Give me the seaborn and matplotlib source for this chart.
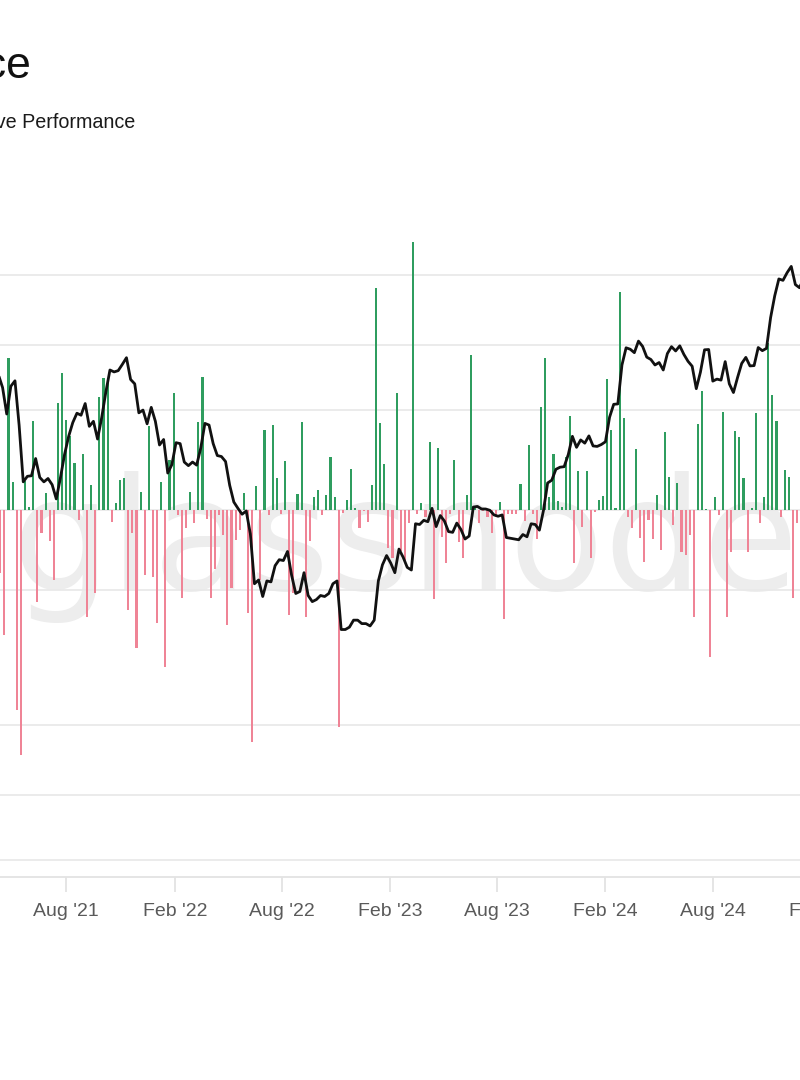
import numpy as np
import pandas as pd
import matplotlib
matplotlib.use("Agg")
import matplotlib.pyplot as plt
import matplotlib.dates as mdates
from matplotlib.ticker import NullLocator, FixedLocator
import seaborn as sns

# ---------------- data ----------------
# Weekly relative performance (%) - one bar per week, week starting Mon 12 Apr 2021
perf_2021 = [-6.3, -12.5, 15.2, 2.8, -20.0, -24.5, 2.9, 0.3, 8.9, -9.2, -2.3, 1.7,
             -3.1, -7.0, 10.7, 13.7, 9.0, 7.4, 4.7, -1.0, 5.6, -10.7, 2.5, -8.3,
             11.3, 13.2, 12.7, -1.2, 0.7, 3.0, 3.2, -10.0, -2.3, -13.8, 1.8, -6.5,
             8.4, -6.7]
perf_2022 = [-11.3, 2.8, -15.7, 5.0, 11.7, -0.5, -8.8, -1.8, 1.8, -1.3, 8.8, 13.3,
             -0.9, -8.8, -5.9, -0.5, -2.5, -11.5, -7.8, -3.0, -2.0, 1.7, -10.3, -23.2,
             2.4, -7.0, 8.0, -0.5, 8.5, 3.2, -0.4, 4.9, -10.5, -8.3, 1.6, 8.8,
             -10.7, -3.1, 1.3, 2.0, -0.5, 1.5, 5.3, 1.3, -21.7, -0.3, 1.0, 4.1,
             0.2, -1.8, -0.1, -1.2]
perf_2023 = [2.5, 22.2, 8.7, 4.6, -3.8, -4.8, 11.7, -4.1, -5.1, -1.3, 26.8, -0.4,
             0.7, -0.7, 6.8, -8.9, 6.2, -2.7, -5.3, -0.4, 5.0, -3.2, -4.8, 1.5,
             15.5, 0.3, -1.3, -0.1, -0.7, -2.3, -0.7, 0.8, -10.9, -0.4, -0.4, -0.4,
             2.6, -1.1, 6.5, -0.4, -2.9, 10.3, 15.2, 1.3, 5.6, 0.9, 0.3, 5.3,
             9.4, -5.3, 3.9, -1.7]
perf_2024 = [3.9, -4.8, -0.2, 1.0, 1.4, 13.1, 8.0, 0.2, 21.8, 9.2, -0.7, -1.8,
             6.1, -2.8, -5.2, -1.0, -2.9, 1.5, -4.0, 7.8, 3.3, -1.5, 2.7, -4.2,
             -4.5, -2.5, -10.7, 8.6, 11.9, 0.1, -14.7, 1.3, -0.5, 9.8, -10.7, -4.2,
             7.9, 7.3, 3.2, -4.2, 0.2, 9.7, -1.3, 1.3, 16.7, 11.5, 8.9, -0.7,
             4.0, 3.3, -8.8, -1.3, 5.0]

# BTC price (thousand USD), weekly closes from Sun 4 Apr 2021
price_2021 = [58.7, 60.0, 56.2, 49.1, 56.6, 58.2, 46.4, 34.7, 35.7, 35.8, 39.1, 35.5,
              34.7, 35.3, 34.2, 31.8, 35.4, 39.9, 43.8, 47.0, 49.3, 48.8, 51.8, 46.1,
              47.3, 43.2, 48.2, 54.9, 61.5, 60.9, 61.3, 63.3, 65.5, 58.6, 57.3, 49.4,
              50.1, 46.7, 50.8]
price_2022 = [47.3, 41.9, 43.1, 36.3, 37.9, 42.4, 42.2, 38.4, 37.7, 38.4, 37.8, 41.3,
              46.8, 46.4, 42.2, 39.7, 39.5, 38.5, 34.1, 31.3, 30.3, 29.4, 29.9, 26.6,
              20.6, 21.0, 19.3, 20.9, 20.8, 22.6, 23.3, 23.2, 24.3, 21.5, 19.6, 19.8,
              21.8, 19.4, 18.8, 19.0, 19.4, 19.3, 19.6, 20.6, 20.9, 16.3, 16.3, 16.5,
              17.1, 17.1, 16.8, 16.8]
price_2023 = [16.6, 17.1, 20.9, 22.7, 23.8, 22.9, 21.8, 24.6, 23.6, 22.4, 22.1, 28.0,
              27.9, 28.5, 28.3, 30.3, 27.6, 29.2, 28.4, 26.9, 26.8, 28.1, 27.2, 25.9,
              26.3, 30.5, 30.6, 30.2, 30.2, 30.0, 29.3, 29.1, 29.3, 26.1, 26.0, 25.9,
              25.8, 26.5, 26.2, 28.0, 27.9, 27.1, 30.0, 34.5, 35.0, 37.0, 37.4, 37.5,
              39.9, 43.8, 41.4, 43.0, 42.3]
price_2024 = [43.9, 41.7, 41.6, 42.0, 42.6, 48.3, 51.6, 51.7, 63.1, 68.9, 68.4, 67.2,
              71.3, 69.4, 65.7, 64.9, 63.1, 63.9, 61.5, 66.9, 69.3, 67.8, 69.6, 66.6,
              64.3, 62.7, 55.9, 60.8, 68.2, 68.3, 58.1, 58.7, 58.4, 64.2, 57.3, 54.8,
              59.2, 63.6, 65.6, 62.8, 62.9, 69.0, 67.9, 68.7, 80.4, 89.9, 98.0, 97.3,
              101.2, 104.5, 95.2, 93.7, 98.3]

tick_dates = pd.date_range("2021-08-01", "2025-02-01", freq="6MS")
tick_labels = [d.strftime("%b '%y") for d in tick_dates]
grid_prices = [5000, 7000, 10000, 20000, 30000, 50000, 70000, 100000]

TITLE = "Bitcoin: Weekly Relative Performance vs Price"
LEGEND_LABEL = "Relative Performance"
WATERMARK = "glassnode"

# ---------------- assemble ----------------
perf = perf_2021 + perf_2022 + perf_2023 + perf_2024
bar_dates = pd.date_range("2021-04-11", periods=len(perf), freq="7D")
price_k = price_2021 + price_2022 + price_2023 + price_2024
price_dates = pd.date_range("2021-04-01", periods=len(price_k), freq="7D")
price_df = pd.DataFrame({"date": price_dates, "price": np.array(price_k) * 1000.0})

# ---------------- style / layout ----------------
sns.set_theme(style="white")
plt.rcParams["font.family"] = ["Liberation Sans", "DejaVu Sans"]

W, H = 800, 1080
fig = plt.figure(figsize=(W / 100, H / 100), dpi=100)
fig.patch.set_facecolor("white")

def fx(px):
    return px / W

def fy(py):
    return 1 - py / H

AX_L, AX_R, AX_T, AX_B = -60, 880, 200, 877
ax = fig.add_axes([fx(AX_L), fy(AX_B), (AX_R - AX_L) / W, (AX_B - AX_T) / H])

# x scale: Aug '21 tick at px 66.3, 0.58987 px per day
ANCHOR = mdates.date2num(pd.Timestamp("2021-08-01"))
PX_DAY = 0.58987
xlim = (ANCHOR + (AX_L - 66.3) / PX_DAY, ANCHOR + (AX_R - 66.3) / PX_DAY)

# price (log) scale: $10k at px 725, 450 px per decade
P_LO = 10 ** (4 - (AX_B - 725) / 450)
P_HI = 10 ** (4 + (725 - AX_T) / 450)
# performance scale: 0 at px 510, 10 px per %
R_LO = -(AX_B - 510) / 10
R_HI = (510 - AX_T) / 10

# --- base axis: grid + x axis ---
ax.set_yscale("log")
ax.set_ylim(P_LO, P_HI)
ax.set_xlim(*xlim)
ax.yaxis.set_major_locator(FixedLocator(grid_prices))
ax.yaxis.set_minor_locator(NullLocator())
ax.grid(axis="y", which="major", color="#e9e9e9", linewidth=1.3)
ax.grid(axis="x", visible=False)
ax.tick_params(axis="y", which="both", left=False, right=False, labelleft=False, labelright=False)
ax.set_xticks(mdates.date2num(tick_dates))
ax.set_xticklabels(tick_labels)
ax.tick_params(axis="x", which="major", bottom=True, length=11, width=1.1, color="#dedede",
               pad=8, labelsize=14, labelcolor="#5a5a5a")
ax.xaxis.set_minor_locator(NullLocator())
for s in ["left", "right", "top"]:
    ax.spines[s].set_visible(False)
ax.spines["bottom"].set_color("#e3e3e3")
ax.spines["bottom"].set_linewidth(1.3)
ax.set_xlabel("")
ax.set_ylabel("")

ax.text(fx(405), fy(590), WATERMARK, transform=fig.transFigure, ha="center", va="baseline",
        fontsize=112, color="#ededed", family="DejaVu Sans", zorder=0.2)

# --- bars ---
axb = ax.twinx()
bx = mdates.date2num(bar_dates)
colors = ["#2f9d5f" if v >= 0 else "#ef8496" for v in perf]
axb.bar(bx, perf, width=3.6, color=colors, linewidth=0, align="center")
axb.set_ylim(R_LO, R_HI)
axb.set_xlim(*xlim)
axb.tick_params(axis="y", which="both", left=False, right=False, labelleft=False, labelright=False)
for s in axb.spines.values():
    s.set_visible(False)
axb.set_ylabel("")
axb.grid(False)

# --- price line ---
axl = ax.twinx()
axl.set_yscale("log")
sns.lineplot(data=price_df, x="date", y="price", ax=axl, color="#111111",
             linewidth=2.0, legend=False)
axl.set_ylim(P_LO, P_HI)
axl.set_xlim(*xlim)
axl.yaxis.set_minor_locator(NullLocator())
axl.tick_params(axis="y", which="both", left=False, right=False, labelleft=False, labelright=False)
for s in axl.spines.values():
    s.set_visible(False)
axl.set_ylabel("")
axl.set_xlabel("")
axl.grid(False)

# --- title & legend text (cropped at the left edge like the reference) ---
fig.text(fx(31), fy(78), TITLE, ha="right", va="baseline", fontsize=32, color="#111111")
fig.text(fx(135), fy(128), LEGEND_LABEL, ha="right", va="baseline", fontsize=14.2, color="#1a1a1a")

fig.savefig("out.png", dpi=100, facecolor="white")
